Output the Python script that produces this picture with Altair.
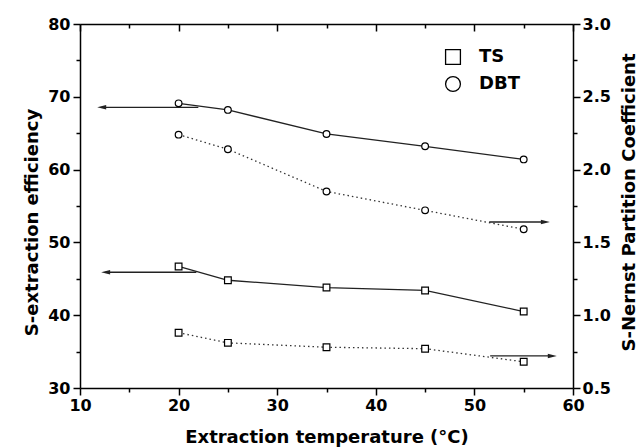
import altair as alt
import pandas as pd

# ---- data ----
temps = [20, 25, 35, 45, 55]
dbt_eff = [69.1, 68.2, 64.9, 63.2, 61.4]      # left axis, solid
ts_eff = [46.7, 44.8, 43.8, 43.4, 40.5]       # left axis, solid
dbt_kn = [2.24, 2.14, 1.85, 1.72, 1.59]       # right axis, dotted
ts_kn = [0.88, 0.81, 0.78, 0.77, 0.68]        # right axis, dotted

series_names = ["TS", "DBT"]
series_shapes = ["square", "circle"]

# arrows (x start, x end, y)
left_arrow_start = [22.0, 21.8]
left_arrow_end = [12.2, 12.6]
left_arrow_y = [68.55, 45.9]
right_arrow_start = [51.5, 51.6]
right_arrow_end = [57.2, 57.9]
right_arrow_y = [1.64, 0.72]

x_ticks = list(range(10, 61, 5))
left_ticks = list(range(30, 81, 5))
right_ticks = [0.5, 0.75, 1.0, 1.25, 1.5, 1.75, 2.0, 2.25, 2.5, 2.75, 3.0]

eff_df = pd.DataFrame({
    "temp": temps * 2,
    "value": dbt_eff + ts_eff,
    "series": ["DBT"] * len(temps) + ["TS"] * len(temps),
})
kn_df = pd.DataFrame({
    "temp": temps * 2,
    "value": dbt_kn + ts_kn,
    "series": ["DBT"] * len(temps) + ["TS"] * len(temps),
})
larr = pd.DataFrame({"x1": left_arrow_start, "x2": left_arrow_end, "y": left_arrow_y})
rarr = pd.DataFrame({"x1": right_arrow_start, "x2": right_arrow_end, "y": right_arrow_y})

FONT = "DejaVu Sans"
common_axis = dict(
    domainColor="black", tickColor="black", domainWidth=1.5, tickWidth=1.5,
    labelColor="black", titleColor="black", labelFont=FONT, titleFont=FONT,
    labelFontSize=16, titleFontSize=18, labelFontWeight="bold",
    titleFontWeight="bold", grid=False, labelOverlap=False,
)

x_bottom = alt.Axis(
    values=x_ticks,
    labelExpr="datum.value % 10 === 0 ? datum.label : ''",
    tickSize={"condition": {"test": "datum.value % 10 === 0", "value": 7}, "value": 4},
    labelPadding=2, labelFlush=False,
    title="Extraction temperature (°C)", titleY=54, titleBaseline="alphabetic",
    orient="bottom", **common_axis,
)
x_top = alt.Axis(
    values=x_ticks, labels=False, title=None, orient="top",
    tickSize={"condition": {"test": "datum.value % 10 === 0", "value": -7}, "value": -4},
    **common_axis,
)
y_left = alt.Axis(
    values=left_ticks,
    labelExpr="datum.value % 10 === 0 ? datum.label : ''",
    tickSize={"condition": {"test": "datum.value % 10 === 0", "value": 7}, "value": 4},
    labelPadding=3, orient="left",
    title="S-extraction efficiency", titleAngle=270, titleX=-43, titleY=198,
    titleBaseline="alphabetic", titleAlign="center",
    **common_axis,
)
y_right = alt.Axis(
    values=right_ticks,
    labelExpr="(datum.value * 2) % 1 === 0 ? format(datum.value, '.1f') : ''",
    tickSize={"condition": {"test": "(datum.value * 2) % 1 === 0", "value": 7}, "value": 4},
    labelPadding=2, orient="right",
    title="S-Nernst Partition Coefficient", titleAngle=270, titleX=61, titleY=178,
    titleBaseline="alphabetic", titleAlign="center",
    **common_axis,
)

xs = alt.Scale(domain=[10, 60], nice=False, zero=False)
yl = alt.Scale(domain=[30, 80], nice=False, zero=False)
yr = alt.Scale(domain=[0.5, 3.0], nice=False, zero=False)


def make_legend():
    return alt.Legend(
        title=None, orient="none", legendX=364, legendY=24,
        symbolSize=220, symbolStrokeWidth=1.3, symbolOpacity=1,
        labelFont=FONT, labelFontSize=18,
        labelFontWeight="bold", labelColor="black", labelOffset=17,
        rowPadding=5,
    )


shape_enc = alt.Shape("series:N",
                      scale=alt.Scale(domain=series_names, range=series_shapes),
                      legend=make_legend())
stroke_enc = alt.Stroke("series:N",
                        scale=alt.Scale(domain=series_names, range=["black", "black"]),
                        legend=make_legend())
fill_enc = alt.Fill("series:N",
                    scale=alt.Scale(domain=series_names, range=["white", "white"]),
                    legend=make_legend())

arrow_path_left = "M1,-0.5L-1,0L1,0.5Z"
arrow_path_right = "M-1,-0.5L1,0L-1,0.5Z"

# ---- left group ----
lx = alt.X("temp:Q", scale=xs, axis=x_bottom)
ly = alt.Y("value:Q", scale=yl, axis=y_left)

left_lines = alt.Chart(eff_df).mark_line(color="#222", strokeWidth=1.3).encode(
    x=lx, y=ly, detail="series:N")
left_pts = alt.Chart(eff_df).mark_point(
    strokeWidth=1.2, size=45, opacity=1, fillOpacity=1
).encode(x=lx, y=ly, shape=shape_enc, stroke=stroke_enc, fill=fill_enc)
left_rule = alt.Chart(larr).mark_rule(color="#222", strokeWidth=1.3).encode(
    x=alt.X("x1:Q", scale=xs, axis=x_bottom), x2="x2:Q",
    y=alt.Y("y:Q", scale=yl, axis=y_left))
left_head = alt.Chart(larr).mark_point(
    shape=arrow_path_left, filled=True, color="#222", size=81, opacity=1
).encode(x=alt.X("x2:Q", scale=xs, axis=x_bottom), y=alt.Y("y:Q", scale=yl, axis=y_left))

left_group = alt.layer(left_lines, left_rule, left_head, left_pts)

# ---- right group ----
rx = alt.X("temp:Q", scale=xs, axis=x_top)
ry = alt.Y("value:Q", scale=yr, axis=y_right)

right_lines = alt.Chart(kn_df).mark_line(
    color="#333", strokeWidth=1.3, strokeDash=[1.5, 3]).encode(
    x=rx, y=ry, detail="series:N")
right_pts = [
    alt.Chart(kn_df).transform_filter(alt.datum.series == name).mark_point(
        shape=shp, filled=False, fill="white", color="black", strokeWidth=1.2,
        size=45, opacity=1
    ).encode(x=rx, y=ry)
    for name, shp in zip(series_names, series_shapes)
]
right_rule = alt.Chart(rarr).mark_rule(color="#222", strokeWidth=1.3).encode(
    x=alt.X("x1:Q", scale=xs, axis=x_top), x2="x2:Q",
    y=alt.Y("y:Q", scale=yr, axis=y_right))
right_head = alt.Chart(rarr).mark_point(
    shape=arrow_path_right, filled=True, color="#222", size=81, opacity=1
).encode(x=alt.X("x2:Q", scale=xs, axis=x_top), y=alt.Y("y:Q", scale=yr, axis=y_right))

right_group = alt.layer(right_lines, right_rule, right_head, *right_pts)

chart = (
    alt.layer(left_group, right_group)
    .resolve_scale(y="independent")
    .resolve_axis(x="independent", y="independent")
    .properties(
        width=493, height=364,
        autosize=alt.AutoSizeParams(type="none"),
        padding={"left": 80, "top": 24, "right": 67, "bottom": 60},
        background="white",
    )
    .configure_view(stroke=None)
)

chart.save("out.html", embed_options={"renderer": "svg", "actions": False})
